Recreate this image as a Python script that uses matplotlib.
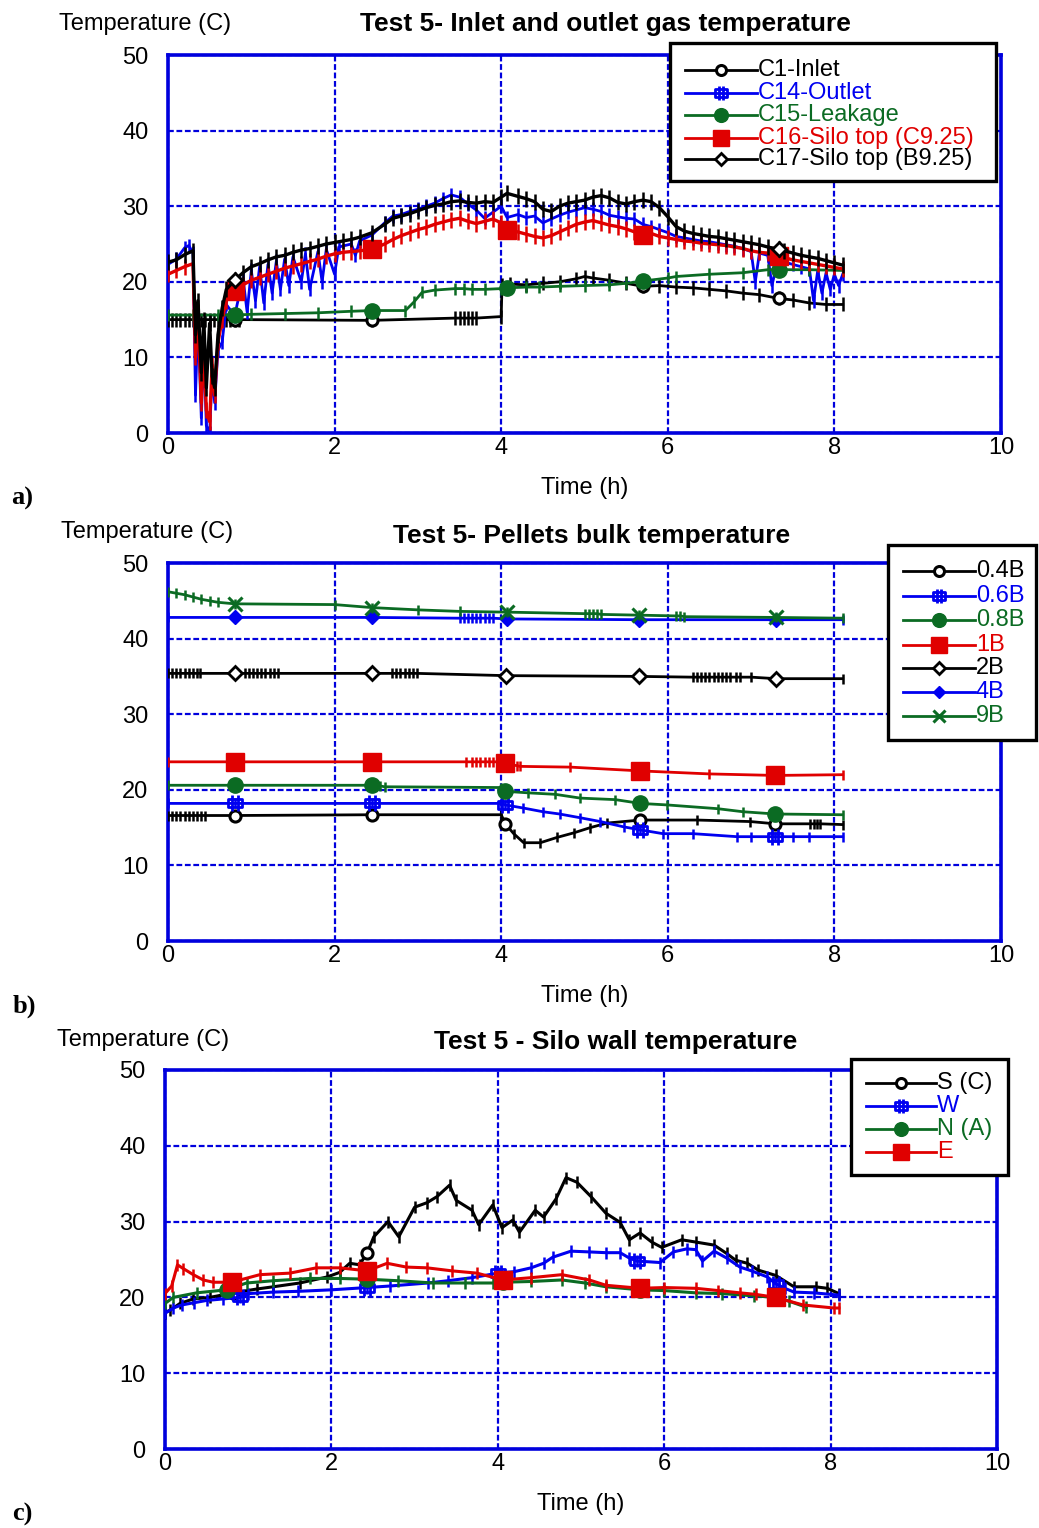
import numpy as np
import matplotlib
matplotlib.use("Agg")
import matplotlib.pyplot as plt
from matplotlib.lines import Line2D
from matplotlib.patches import Rectangle
from matplotlib.path import Path

plt.rcParams['font.family'] = ['Liberation Sans', 'DejaVu Sans']

W, H = 1039, 1528

BLACK = '#000000'
BLUE = '#0000f0'
GREEN = '#0b6b23'
RED = '#e00000'
GRID = '#0000dd'

X_TICKS = [0, 2, 4, 6, 8, 10]
Y_TICKS = [0, 10, 20, 30, 40, 50]

# ---------------- a) inlet / outlet gas temperature ----------------
TITLE_A = "Test 5- Inlet and outlet gas temperature"
LABELS_A = ["C1-Inlet", "C14-Outlet", "C15-Leakage", "C16-Silo top (C9.25)", "C17-Silo top (B9.25)"]
MARKS_A = [0.8, 2.45, 4.07, 5.7, 7.33]

T_C1 = [0, 0.05, 0.1, 0.15, 0.2, 0.25, 0.3, 0.35, 0.4, 0.45, 0.5, 0.55, 0.6, 0.65, 0.7, 0.75, 0.8, 0.85,
        2.45, 3.45, 3.5, 3.55, 3.6, 3.65, 3.7, 4.0, 4.01, 4.1, 4.3, 4.5, 4.7, 4.9, 5.0, 5.1, 5.3, 5.5,
        5.7, 5.9, 6.1, 6.3, 6.5, 6.7, 6.9, 7.1, 7.33, 7.5, 7.7, 7.9, 8.1]
V_C1 = [15.0, 15.0, 15.0, 15.0, 15.0, 15.0, 15.0, 15.0, 15.0, 15.0, 15.0, 15.0, 15.0, 15.0, 15.0, 15.0, 15.0, 15.0,
        14.9, 15.2, 15.2, 15.2, 15.2, 15.2, 15.2, 15.4, 19.6, 19.7, 19.6, 19.8, 20.0, 20.4, 20.7, 20.5, 20.2, 19.8,
        19.4, 19.5, 19.3, 19.2, 19.0, 18.8, 18.5, 18.3, 17.8, 17.6, 17.2, 17.0, 17.0]

T_C14 = [0, 0.1, 0.2, 0.25, 0.3, 0.33, 0.36, 0.4, 0.43, 0.46,
         0.5, 0.53, 0.56, 0.6, 0.65, 0.7, 0.8, 0.9, 0.95, 1.0,
         1.05, 1.1, 1.15, 1.2, 1.25, 1.3, 1.35, 1.4, 1.45, 1.5,
         1.6, 1.65, 1.7, 1.8, 1.85, 1.9, 2.0, 2.05, 2.2, 2.25,
         2.3, 2.45, 2.6, 2.7, 2.8, 2.9, 3.0, 3.1, 3.2, 3.3,
         3.4, 3.5, 3.6, 3.7, 3.8, 3.9, 4.0, 4.07, 4.2, 4.3,
         4.4, 4.5, 4.6, 4.7, 4.8, 4.9, 5.0, 5.1, 5.2, 5.3,
         5.4, 5.5, 5.6, 5.7, 5.8, 5.9, 6.0, 6.1, 6.2, 6.3,
         6.4, 6.5, 6.6, 6.7, 6.8, 6.9, 7.0, 7.05, 7.1, 7.2,
         7.25, 7.33, 7.4, 7.5, 7.6, 7.7, 7.75, 7.8, 7.85, 7.9,
         7.95, 8.0, 8.05, 8.1]
V_C14 = [22.3, 23.0, 24.5, 24.8, 23.8, 5.0, 15.0, 2.0, 12.0, 1.0,
         0.0, 8.0, 4.0, 11.0, 12.0, 17.0, 15.5, 20.5, 16.0, 21.5,
         17.5, 22.0, 17.2, 22.3, 18.5, 22.7, 19.0, 23.0, 19.5, 23.3,
         20.0, 23.7, 19.0, 24.0, 20.0, 24.3, 21.0, 24.6, 25.0, 23.5,
         25.4, 26.2, 27.8, 28.7, 28.9, 29.3, 29.6, 30.0, 30.4, 31.0,
         31.5, 31.2, 30.3, 29.5, 28.4, 29.2, 30.0, 28.5, 28.9, 28.5,
         28.7, 27.8, 28.3, 28.8, 29.2, 29.5, 29.8, 29.6, 29.3, 28.8,
         28.6, 28.4, 28.3, 27.6, 27.3, 26.9, 26.5, 26.0, 25.8, 25.6,
         25.4, 25.3, 25.1, 24.9, 24.7, 24.4, 24.0, 20.0, 23.8, 23.5,
         19.5, 23.3, 22.6, 22.3, 22.0, 21.7, 17.5, 21.5, 18.5, 21.2,
         19.0, 21.0, 19.5, 21.0]

T_C15 = [0, 0.3, 0.6, 0.8, 1.0, 1.4, 1.8, 2.2, 2.45, 2.85,
         2.95, 3.05, 3.2, 3.45, 3.55, 3.65, 3.8, 4.0, 4.07, 4.3,
         4.45, 4.7, 5.0, 5.3, 5.5, 5.7, 6.0, 6.1, 6.5, 6.9,
         7.2, 7.33, 7.7, 8.1]
V_C15 = [15.6, 15.6, 15.6, 15.6, 15.7, 15.8, 15.9, 16.1, 16.2, 16.2,
         17.3, 18.6, 18.9, 19.1, 19.1, 19.0, 19.0, 19.1, 19.2, 19.3,
         19.3, 19.4, 19.5, 19.6, 19.8, 20.1, 20.5, 20.7, 21.0, 21.2,
         21.6, 21.6, 21.6, 21.5]

T_TOP = [0, 0.1, 0.2, 0.3, 0.33, 0.36, 0.4, 0.43, 0.46, 0.5,
         0.53, 0.56, 0.6, 0.65, 0.7, 0.8, 0.9, 1.0, 1.1, 1.2,
         1.3, 1.4, 1.5, 1.6, 1.7, 1.8, 1.9, 2.0, 2.1, 2.2,
         2.3, 2.45, 2.6, 2.7, 2.8, 2.9, 3.0, 3.1, 3.2, 3.3,
         3.4, 3.5, 3.6, 3.7, 3.8, 3.9, 4.0, 4.07, 4.2, 4.3,
         4.4, 4.5, 4.6, 4.7, 4.8, 4.9, 5.0, 5.1, 5.2, 5.3,
         5.4, 5.5, 5.6, 5.7, 5.8, 5.9, 6.0, 6.1, 6.2, 6.3,
         6.4, 6.5, 6.6, 6.7, 6.8, 6.9, 7.0, 7.1, 7.2, 7.33,
         7.4, 7.5, 7.6, 7.7, 7.8, 7.9, 8.0, 8.1]
V_C16 = [21.0, 21.5, 22.0, 22.4, 10.0, 16.0, 4.0, 12.0, 3.0, 1.5,
         9.0, 5.0, 12.0, 15.0, 17.5, 18.8, 19.6, 20.2, 20.6, 21.0,
         21.4, 21.8, 22.1, 22.4, 22.7, 23.0, 23.4, 23.7, 23.9, 24.0,
         24.1, 24.3, 25.0, 25.6, 26.1, 26.5, 26.9, 27.2, 27.6, 27.9,
         28.2, 28.4, 28.0, 27.7, 28.0, 28.3, 27.8, 26.8, 26.6, 26.3,
         26.0, 25.8, 26.1, 26.6, 27.1, 27.6, 27.9, 28.1, 27.8, 27.5,
         27.3, 27.0, 26.6, 26.2, 26.4, 26.0, 25.8, 25.6, 25.4, 25.3,
         25.1, 25.0, 24.9, 24.8, 24.6, 24.4, 24.1, 23.9, 23.8, 23.4,
         23.2, 22.9, 22.7, 22.5, 22.3, 22.1, 21.9, 21.7]
V_C17 = [22.6, 22.9, 23.6, 24.1, 13.0, 17.5, 8.0, 15.0, 6.0, 14.5,
         7.5, 6.0, 13.0, 16.5, 19.0, 20.2, 21.2, 22.0, 22.4, 22.9,
         23.3, 23.5, 23.9, 24.2, 24.4, 24.7, 25.0, 25.2, 25.4, 25.6,
         25.9, 26.5, 27.6, 28.4, 28.7, 29.0, 29.4, 29.8, 30.1, 30.3,
         30.6, 30.7, 30.5, 30.4, 30.6, 30.5, 31.2, 31.7, 31.3, 31.0,
         30.6, 29.6, 29.3, 30.0, 30.4, 30.6, 30.8, 31.2, 31.4, 31.1,
         30.5, 30.3, 30.6, 30.8, 30.6, 29.8, 28.6, 27.3, 26.7, 26.4,
         26.2, 26.0, 25.9, 25.7, 25.5, 25.3, 25.1, 24.9, 24.6, 24.3,
         24.1, 23.8, 23.5, 23.3, 23.1, 22.8, 22.5, 22.2]

# ---------------- b) pellets bulk temperature ----------------
TITLE_B = "Test 5- Pellets bulk temperature"
LABELS_B = ["0.4B", "0.6B", "0.8B", "1B", "2B", "4B", "9B"]
MARKS_B = [0.8, 2.45, 4.07, 5.67, 7.3]

T_04B = [0, 0.05, 0.1, 0.15, 0.2, 0.25, 0.3, 0.35, 0.4, 0.45,
         0.8, 2.45, 4.0, 4.05, 4.15, 4.27, 4.47, 4.67, 4.87, 5.07,
         5.27, 5.67, 6.35, 6.99, 7.29, 7.71, 7.75, 7.79, 7.83, 8.1]
V_04B = [16.6, 16.6, 16.6, 16.6, 16.6, 16.6, 16.6, 16.6, 16.6, 16.6,
         16.6, 16.7, 16.7, 15.5, 14.2, 13.0, 13.0, 13.7, 14.3, 15.0,
         15.6, 16.0, 16.0, 15.8, 15.5, 15.5, 15.5, 15.5, 15.5, 15.4]

T_06B = [0, 0.8, 2.45, 4.0, 4.05, 4.26, 4.5, 4.7, 4.95, 5.19,
         5.47, 5.67, 5.94, 6.3, 6.83, 7.0, 7.29, 7.5, 7.7, 8.1]
V_06B = [18.2, 18.2, 18.2, 18.2, 18.0, 17.6, 17.1, 16.8, 16.3, 15.8,
         15.1, 14.7, 14.2, 14.2, 13.8, 13.8, 13.8, 13.8, 13.8, 13.8]

T_08B = [0, 0.8, 2.45, 2.5, 2.55, 2.6, 4.0, 4.05, 4.32, 4.65,
         4.95, 5.37, 5.67, 5.99, 6.6, 6.9, 7.29, 8.1]
V_08B = [20.6, 20.6, 20.6, 20.5, 20.5, 20.4, 20.3, 19.8, 19.6, 19.4,
         18.9, 18.7, 18.2, 18.0, 17.5, 17.1, 16.8, 16.7]

T_1B = [0, 0.8, 2.45, 3.58, 3.65, 3.7, 3.75, 3.8, 3.85, 3.9,
        3.95, 4.0, 4.05, 4.1, 4.19, 4.22, 4.83, 5.67, 6.5, 7.29, 8.1]
V_1B = [23.7, 23.7, 23.7, 23.7, 23.7, 23.7, 23.7, 23.7, 23.7, 23.7,
        23.7, 23.7, 23.5, 23.3, 23.2, 23.1, 23.0, 22.5, 22.1, 21.9, 22.0]

T_2B = [0, 0.05, 0.1, 0.15, 0.2, 0.25, 0.3, 0.35, 0.38, 0.8,
        0.92, 0.97, 1.02, 1.07, 1.12, 1.17, 1.22, 1.27, 1.32, 2.45,
        2.69, 2.74, 2.79, 2.84, 2.89, 2.94, 2.99, 4.06, 5.66, 6.3,
        6.35, 6.4, 6.45, 6.5, 6.55, 6.6, 6.65, 6.7, 6.75, 6.82,
        6.87, 7.0, 7.3, 8.1]
V_2B = [35.4, 35.4, 35.4, 35.4, 35.4, 35.4, 35.4, 35.4, 35.4, 35.4,
        35.4, 35.4, 35.4, 35.4, 35.4, 35.4, 35.4, 35.4, 35.4, 35.4,
        35.4, 35.4, 35.4, 35.4, 35.4, 35.4, 35.4, 35.1, 35.0, 34.9,
        34.9, 34.9, 34.9, 34.9, 34.9, 34.9, 34.9, 34.9, 34.9, 34.9,
        34.9, 34.9, 34.7, 34.7]

T_4B = [0, 0.8, 2.45, 3.5, 3.55, 3.6, 3.65, 3.7, 3.75, 3.8,
        3.85, 3.9, 4.07, 5.66, 7.3, 8.1]
V_4B = [42.8, 42.8, 42.8, 42.7, 42.7, 42.7, 42.7, 42.7, 42.7, 42.7,
        42.7, 42.7, 42.6, 42.5, 42.5, 42.5]

T_9B = [0, 0.1, 0.2, 0.3, 0.4, 0.5, 0.6, 0.8, 2.0, 2.45,
        3.0, 3.5, 4.07, 5.0, 5.05, 5.1, 5.15, 5.2, 5.66, 6.1,
        6.15, 6.2, 7.3, 8.1]
V_9B = [46.2, 46.0, 45.8, 45.5, 45.2, 45.0, 44.8, 44.6, 44.5, 44.1,
        43.8, 43.6, 43.5, 43.3, 43.3, 43.3, 43.3, 43.2, 43.1, 43.0,
        43.0, 42.9, 42.8, 42.7]

# ---------------- c) silo wall temperature ----------------
TITLE_C = "Test 5 - Silo wall temperature"
LABELS_C = ["S (C)", "W", "N (A)", "E"]
MARKS_C = [0.8, 2.43, 4.06, 5.71, 7.34]

T_S = [0, 0.06, 0.18, 0.34, 0.54, 0.82, 1.1, 1.3, 1.62, 1.95,
       2.1, 2.22, 2.34, 2.43, 2.51, 2.68, 2.81, 3.0, 3.15, 3.27,
       3.42, 3.5, 3.69, 3.77, 3.94, 4.05, 4.18, 4.26, 4.45, 4.55,
       4.7, 4.82, 4.95, 5.12, 5.3, 5.47, 5.58, 5.71, 5.85, 5.97,
       6.21, 6.38, 6.6, 6.75, 6.86, 7.0, 7.13, 7.34, 7.56, 7.82,
       7.96, 8.1]
V_S = [18.0, 18.3, 19.2, 19.8, 20.0, 20.6, 21.1, 21.4, 21.9, 22.7,
       23.3, 24.5, 24.3, 25.9, 28.0, 30.0, 28.0, 31.9, 32.5, 33.3,
       34.8, 32.8, 31.5, 29.6, 32.2, 29.2, 30.2, 28.6, 31.5, 30.6,
       33.0, 35.8, 35.2, 33.3, 31.1, 29.9, 27.6, 28.5, 27.3, 26.6,
       27.6, 27.3, 26.9, 25.8, 24.9, 24.5, 23.6, 22.9, 21.4, 21.4,
       21.2, 20.5]

T_W = [0, 0.1, 0.2, 0.35, 0.5, 0.7, 0.9, 1.0, 1.3, 1.6,
       2.0, 2.43, 2.7, 3.16, 3.4, 3.69, 4.0, 4.2, 4.4, 4.55,
       4.66, 4.88, 5.1, 5.3, 5.47, 5.58, 5.67, 5.95, 6.11, 6.27,
       6.38, 6.46, 6.6, 6.75, 6.91, 7.05, 7.24, 7.34, 7.45, 7.56,
       7.8, 8.1]
V_W = [17.9, 18.6, 19.0, 19.3, 19.6, 19.8, 20.0, 20.5, 20.7, 20.8,
       21.0, 21.3, 21.5, 21.9, 22.2, 22.6, 23.2, 23.4, 23.9, 24.5,
       25.3, 26.1, 26.0, 25.9, 25.9, 25.2, 24.8, 24.6, 26.0, 26.4,
       26.3, 24.8, 26.1, 25.2, 24.0, 23.5, 22.7, 21.8, 21.2, 20.7,
       20.6, 20.3]

T_N = [0, 0.1, 0.38, 0.74, 0.98, 1.3, 1.74, 2.1, 2.43, 2.8,
       3.22, 3.6, 3.94, 4.06, 4.4, 4.77, 5.05, 5.3, 5.71, 6.0,
       6.38, 6.7, 7.08, 7.34, 7.5, 7.71]
V_N = [19.2, 20.0, 20.6, 21.0, 21.9, 22.2, 22.5, 22.5, 22.4, 22.2,
       21.9, 21.9, 21.9, 22.0, 22.1, 22.3, 21.9, 21.4, 21.0, 20.9,
       20.6, 20.5, 20.2, 20.0, 19.5, 18.7]

T_E = [0, 0.08, 0.15, 0.22, 0.34, 0.46, 0.58, 0.8, 1.14, 1.5,
       1.82, 2.1, 2.43, 2.67, 2.9, 3.15, 3.45, 3.75, 4.06, 4.4,
       4.77, 5.1, 5.3, 5.71, 6.0, 6.38, 6.65, 6.91, 7.1, 7.34,
       7.67, 8.04, 8.1]
V_E = [20.5, 21.5, 24.3, 23.8, 23.0, 22.3, 22.0, 22.0, 23.0, 23.2,
       23.9, 23.9, 23.5, 24.5, 24.0, 23.9, 23.5, 23.2, 22.3, 22.6,
       23.0, 22.3, 21.6, 21.2, 21.3, 21.2, 20.9, 20.6, 20.4, 20.0,
       19.0, 18.6, 18.6]

# marker shape used for the blue "outlet"/"W" style series
STEM_SQ = Path([(-0.9, -0.55), (0.9, -0.55), (0.9, 0.55), (-0.9, 0.55), (-0.9, -0.55),
                (-0.35, -1.0), (-0.35, 1.0), (0.35, -1.0), (0.35, 1.0)],
               [Path.MOVETO, Path.LINETO, Path.LINETO, Path.LINETO, Path.CLOSEPOLY,
                Path.MOVETO, Path.LINETO, Path.MOVETO, Path.LINETO])

STYLE = {
    'ocirc': dict(marker='o', ms=8, mfc='white', mew=2.2),
    'stemsq': dict(marker=STEM_SQ, ms=11, mfc='none', mew=2.0),
    'fcirc': dict(marker='o', ms=11, mfc=None, mew=1),
    'fsq': dict(marker='s', ms=13, mfc=None, mew=1),
    'odia': dict(marker='D', ms=7, mfc='white', mew=2.0),
    'fdia': dict(marker='D', ms=7, mfc=None, mew=1),
    'x': dict(marker='x', ms=10, mfc=None, mew=2.2),
}


def fx(px):
    return px / W


def fy(py):
    return 1 - py / H


def series(ax, t, v, color, kind, marks, z, tick=7, lw=2.0):
    t = np.asarray(t, float)
    v = np.asarray(v, float)
    ax.plot(t, v, color=color, lw=lw, marker='|', ms=tick, mew=1.8, zorder=z)
    if not marks:
        return
    idx = sorted({int(np.argmin(np.abs(t - m))) for m in marks})
    st = dict(STYLE[kind])
    if st['mfc'] is None:
        st['mfc'] = color
    ax.plot(t[idx], v[idx], ls='none', color=color, mec=color, zorder=z + 0.5, **st)


def setup(ax):
    ax.set_xlim(0, 10)
    ax.set_ylim(0, 50)
    ax.set_xticks(X_TICKS)
    ax.set_yticks(Y_TICKS)
    ax.grid(True, color=GRID, ls=(0, (2.6, 1.2)), lw=1.6)
    ax.set_axisbelow(True)
    for s in ax.spines.values():
        s.set_color(GRID)
        s.set_linewidth(2.6)
    ax.tick_params(length=0, labelsize=17)
    ax.tick_params(axis='y', pad=14)
    ax.tick_params(axis='x', pad=3)


def legend(fig, box, rows, line_x, text_x, entries):
    x0, y0, x1, y1 = box
    fig.add_artist(Rectangle((fx(x0), fy(y1)), fx(x1) - fx(x0), fy(y0) - fy(y1),
                             transform=fig.transFigure, facecolor='white',
                             edgecolor='black', lw=2.4, zorder=10))
    xm = (line_x[0] + line_x[1]) / 2
    for y, (label, color, kind) in zip(rows, entries):
        fig.add_artist(Line2D([fx(line_x[0]), fx(line_x[1])], [fy(y), fy(y)],
                              transform=fig.transFigure, color=color, lw=2.0, zorder=11))
        st = dict(STYLE[kind])
        if st['mfc'] is None:
            st['mfc'] = color
        st['ms'] = st['ms'] * 0.9
        fig.add_artist(Line2D([fx(xm)], [fy(y)], transform=fig.transFigure, ls='none',
                              color=color, mec=color, zorder=12, **st))
        fig.text(fx(text_x), fy(y), label, color=color, fontsize=17,
                 va='center', ha='left', zorder=12)


def texts(fig, ylab_xy, title, title_xy, xlab_xy, tag, tag_xy):
    fig.text(fx(ylab_xy[0]), fy(ylab_xy[1]), "Temperature (C)", fontsize=17,
             ha='center', va='center')
    fig.text(fx(title_xy[0]), fy(title_xy[1]), title, fontsize=19, fontweight='bold',
             ha='center', va='center')
    fig.text(fx(xlab_xy[0]), fy(xlab_xy[1]), "Time (h)", fontsize=17,
             ha='center', va='center')
    fig.text(fx(tag_xy[0]), fy(tag_xy[1]), tag, fontsize=19, fontweight='bold',
             family='Liberation Serif', ha='center', va='center')


fig = plt.figure(figsize=(W / 100, H / 100), dpi=100)

# panel a
ax_a = fig.add_axes([fx(168), fy(433), fx(1001) - fx(168), fy(55) - fy(433)])
setup(ax_a)
series(ax_a, T_C1, V_C1, BLACK, 'ocirc', [0.8, 2.45, 5.7, 7.33], 3, tick=10)
series(ax_a, T_C14, V_C14, BLUE, 'stemsq', [], 4, tick=10)
series(ax_a, T_C15, V_C15, GREEN, 'fcirc', MARKS_A, 5, tick=8)
series(ax_a, T_TOP, V_C16, RED, 'fsq', MARKS_A, 6, tick=11, lw=2.4)
series(ax_a, T_TOP, V_C17, BLACK, 'odia', [0.8, 7.33], 7, tick=11, lw=2.4)
texts(fig, (145, 24), TITLE_A, (605, 24), (585, 488), "a)", (22, 498))
legend(fig, (670, 43, 996, 181), [70, 93, 115, 138, 159], (685, 757), 758,
       list(zip(LABELS_A, [BLACK, BLUE, GREEN, RED, BLACK],
                ['ocirc', 'stemsq', 'fcirc', 'fsq', 'odia'])))

# panel b
ax_b = fig.add_axes([fx(168), fy(941), fx(1001) - fx(168), fy(563) - fy(941)])
setup(ax_b)
series(ax_b, T_04B, V_04B, BLACK, 'ocirc', MARKS_B, 3)
series(ax_b, T_06B, V_06B, BLUE, 'stemsq', MARKS_B, 4)
series(ax_b, T_08B, V_08B, GREEN, 'fcirc', MARKS_B, 5)
series(ax_b, T_1B, V_1B, RED, 'fsq', MARKS_B, 6)
series(ax_b, T_2B, V_2B, BLACK, 'odia', MARKS_B, 7)
series(ax_b, T_4B, V_4B, BLUE, 'fdia', MARKS_B, 8)
series(ax_b, T_9B, V_9B, GREEN, 'x', MARKS_B, 9)
texts(fig, (147, 532), TITLE_B, (592, 536), (585, 996), "b)", (24, 1006))
legend(fig, (888, 545, 1036, 740), [571, 596, 620, 645, 668, 692, 716], (903, 975), 976,
       list(zip(LABELS_B, [BLACK, BLUE, GREEN, RED, BLACK, BLUE, GREEN],
                ['ocirc', 'stemsq', 'fcirc', 'fsq', 'odia', 'fdia', 'x'])))

# panel c
ax_c = fig.add_axes([fx(165), fy(1449), fx(997) - fx(165), fy(1070) - fy(1449)])
setup(ax_c)
series(ax_c, T_S, V_S, BLACK, 'ocirc', [0.8, 2.43], 3, tick=9, lw=2.2)
series(ax_c, T_W, V_W, BLUE, 'stemsq', MARKS_C, 4, tick=9, lw=2.2)
series(ax_c, T_N, V_N, GREEN, 'fcirc', MARKS_C, 5, tick=9, lw=2.2)
series(ax_c, T_E, V_E, RED, 'fsq', MARKS_C, 6, tick=9, lw=2.2)
texts(fig, (143, 1040), TITLE_C, (616, 1042), (581, 1504), "c)", (22, 1514))
legend(fig, (851, 1059, 1008, 1175), [1083, 1106, 1129, 1152], (866, 936), 937,
       list(zip(LABELS_C, [BLACK, BLUE, GREEN, RED],
                ['ocirc', 'stemsq', 'fcirc', 'fsq'])))

fig.savefig("out.png", dpi=100)
